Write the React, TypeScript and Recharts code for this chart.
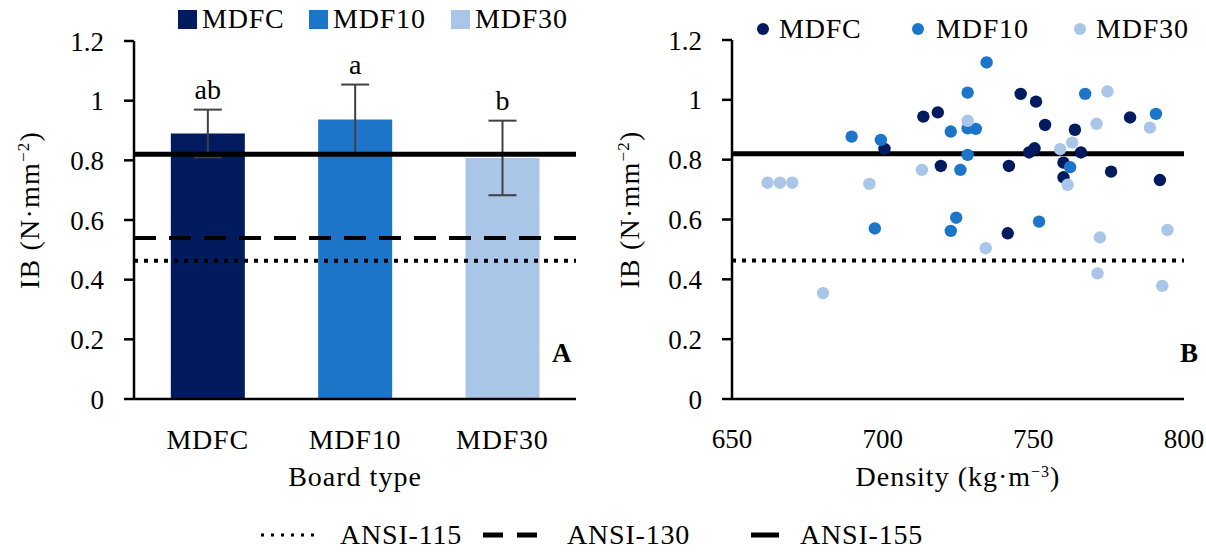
import React from 'react'
import {
  ComposedChart, Bar, XAxis, YAxis, ErrorBar, ReferenceLine, LabelList, Label, Cell,
  ScatterChart, Scatter,
} from 'recharts'

// panel A: mean IB per board type
const boardTypes = ['MDFC', 'MDF10', 'MDF30']
const ibMeans = [0.89, 0.937, 0.808]
const ibErrors = [0.08, 0.117, 0.125]
const letters = ['ab', 'a', 'b']
const seriesColors = ['#021B5E', '#1C75C9', '#A9C6E8']

// ANSI grade thresholds
const ansiLabels = ['ANSI-115', 'ANSI-130', 'ANSI-155']
const ansiValues = [0.463, 0.54, 0.82]
const ansiDash = ['4 6', '22 13', '']

// panel B: IB vs density per board
const mdfcDensity = [700.6, 713.5, 718.3, 719.3, 741.5, 741.9, 745.8, 748.6, 750.4, 750.9, 753.9, 760.0, 760.0, 763.8, 765.8, 775.8, 782.1, 792.0]
const mdfcIB = [0.836, 0.944, 0.958, 0.779, 0.554, 0.779, 1.02, 0.824, 0.838, 0.994, 0.916, 0.79, 0.741, 0.9, 0.824, 0.76, 0.941, 0.732]
const mdf10Density = [689.7, 697.4, 699.4, 722.6, 722.6, 724.4, 725.8, 728.2, 728.2, 730.9, 728.2, 734.5, 751.9, 762.2, 767.2, 790.7]
const mdf10IB = [0.877, 0.57, 0.866, 0.894, 0.562, 0.606, 0.766, 1.024, 0.905, 0.903, 0.816, 1.125, 0.593, 0.775, 1.02, 0.953]
const mdf30Density = [661.8, 665.9, 670.0, 680.2, 695.6, 713.0, 728.2, 734.2, 758.9, 761.4, 762.9, 771.0, 771.3, 772.1, 774.6, 788.7, 792.8, 794.5]
const mdf30IB = [0.723, 0.723, 0.723, 0.354, 0.719, 0.766, 0.93, 0.504, 0.835, 0.716, 0.857, 0.92, 0.42, 0.54, 1.028, 0.907, 0.378, 0.565]

const ibTicks = [0, 0.2, 0.4, 0.6, 0.8, 1, 1.2]
const densityTicks = [650, 700, 750, 800]

const FONT = "'Liberation Serif', 'DejaVu Serif', serif"
const tickStyle = { fill: '#000', fontSize: 27, fontFamily: FONT }
const wordTick = { ...tickStyle, fontSize: 28, letterSpacing: 0.8 }
const fmt = (v: number) => `${+v.toFixed(1)}`

const barRows = boardTypes.map((name, i) => ({ name, mean: ibMeans[i], err: ibErrors[i], letter: letters[i] }))
const toPoints = (xs: number[], ys: number[]) => xs.map((d, i) => ({ d, ib: ys[i] }))
const scatterSeries = [
  { name: 'MDFC', data: toPoints(mdfcDensity, mdfcIB), color: seriesColors[0] },
  { name: 'MDF10', data: toPoints(mdf10Density, mdf10IB), color: seriesColors[1] },
  { name: 'MDF30', data: toPoints(mdf30Density, mdf30IB), color: seriesColors[2] },
]

function renderLetter(props: any) {
  const { x, y, width, height, index } = props
  const row = barRows[index]
  if (!row) return null
  const pxPerUnit = height / row.mean
  const top = y - row.err * pxPerUnit
  return (
    <text x={x + width / 2} y={top - 11} textAnchor="middle" fill="#000" fontSize={28} fontFamily={FONT}>
      {row.letter}
    </text>
  )
}

function yTitle(props: any) {
  const { viewBox } = props
  const cx = viewBox.x + 30
  const cy = viewBox.y + viewBox.height / 2 - 10
  return (
    <text x={cx} y={cy} transform={`rotate(-90, ${cx}, ${cy})`} textAnchor="middle" dy={9}
      fill="#000" fontSize={28} fontFamily={FONT} letterSpacing={1.2}>
      IB (N·mm<tspan dy={-10} fontSize={17}>−2</tspan><tspan dy={10}>)</tspan>
    </text>
  )
}

function xTitle(main: string, sup?: string) {
  return (props: any) => {
    const { viewBox } = props
    const cx = viewBox.x + viewBox.width / 2
    const cy = viewBox.y + 87
    return (
      <text x={cx} y={cy} textAnchor="middle" fill="#000" fontSize={28} fontFamily={FONT} letterSpacing={1}>
        {main}
        {sup && <tspan dy={-9} fontSize={16}>{sup}</tspan>}
        {sup && <tspan dy={9}>)</tspan>}
      </text>
    )
  }
}

const legendText: React.CSSProperties = {
  position: 'absolute', fontFamily: FONT, fontSize: 28, lineHeight: '30px', color: '#000', letterSpacing: 0.8,
}

export default function App() {
  return (
    <div style={{ position: 'absolute', left: 0, top: 0, width: 1206, height: 555, background: '#fff', overflow: 'hidden' }}>
      {/* panel A */}
      <div style={{ position: 'absolute', left: 0, top: 0 }}>
        <ComposedChart width={600} height={555} data={barRows} margin={{ top: 41, right: 24, bottom: 96, left: 0 }} barCategoryGap="25%">
          <XAxis dataKey="name" height={60} tickLine={false} tickSize={0} tickMargin={30} tick={wordTick}
            axisLine={{ stroke: '#000', strokeWidth: 2.5 }}>
            <Label content={xTitle('Board type')} />
          </XAxis>
          <YAxis width={134} domain={[0, 1.2]} ticks={ibTicks} interval={0} tickFormatter={fmt} tick={tickStyle}
            tickSize={10} tickMargin={20} axisLine={{ stroke: '#000', strokeWidth: 2.5 }} tickLine={{ stroke: '#000', strokeWidth: 2.5 }}>
            <Label content={yTitle} />
          </YAxis>
          <Bar dataKey="mean" isAnimationActive={false}>
            {barRows.map((r, i) => <Cell key={r.name} fill={seriesColors[i]} />)}
            <ErrorBar dataKey="err" width={14} stroke="#404040" strokeWidth={2} />
            <LabelList dataKey="letter" content={renderLetter} />
          </Bar>
          {ansiValues.map((v, i) => (
            <ReferenceLine key={ansiLabels[i]} y={v} stroke="#000" strokeWidth={i === 2 ? 5 : 4} strokeDasharray={ansiDash[i]} />
          ))}
        </ComposedChart>
      </div>

      {/* panel B */}
      <div style={{ position: 'absolute', left: 600, top: 0 }}>
        <ScatterChart width={606} height={555} margin={{ top: 40, right: 22, bottom: 96, left: 0 }}>
          <XAxis dataKey="d" type="number" domain={[650, 800]} ticks={densityTicks} interval={0} height={60}
            tickLine={false} tickSize={0} tickMargin={30} tick={tickStyle} axisLine={{ stroke: '#000', strokeWidth: 2.5 }}>
            <Label content={xTitle('Density (kg·m', '−3')} />
          </XAxis>
          <YAxis dataKey="ib" type="number" width={132} domain={[0, 1.2]} ticks={ibTicks} interval={0} tickFormatter={fmt}
            tick={tickStyle} tickSize={10} tickMargin={20} axisLine={{ stroke: '#000', strokeWidth: 2.5 }}
            tickLine={{ stroke: '#000', strokeWidth: 2.5 }}>
            <Label content={yTitle} />
          </YAxis>
          {scatterSeries.map(s => (
            <Scatter key={s.name} name={s.name} data={s.data} fill={s.color} isAnimationActive={false}
              shape={(p: any) => <circle cx={p.cx} cy={p.cy} r={6.2} fill={s.color} />} />
          ))}
          <ReferenceLine y={ansiValues[2]} stroke="#000" strokeWidth={5} />
          <ReferenceLine y={ansiValues[0]} stroke="#000" strokeWidth={4} strokeDasharray={ansiDash[0]} />
        </ScatterChart>
      </div>

      {/* legend A */}
      {boardTypes.map((name, i) => (
        <React.Fragment key={name}>
          <div style={{ position: 'absolute', left: [178, 309, 451][i], top: 10, width: 19, height: 19, background: seriesColors[i] }} />
          <div style={{ ...legendText, left: [202, 333, 475][i], top: 4 }}>{name}</div>
        </React.Fragment>
      ))}

      {/* legend B */}
      {scatterSeries.map((s, i) => (
        <React.Fragment key={s.name}>
          <div style={{ position: 'absolute', left: [757, 912, 1074][i], top: 23, width: 12, height: 12, borderRadius: 6, background: s.color }} />
          <div style={{ ...legendText, left: [779, 936, 1096][i], top: 14 }}>{s.name}</div>
        </React.Fragment>
      ))}

      <div style={{ position: 'absolute', left: 552, top: 338, fontFamily: FONT, fontSize: 27, fontWeight: 'bold' }}>A</div>
      <div style={{ position: 'absolute', left: 1180, top: 338, fontFamily: FONT, fontSize: 27, fontWeight: 'bold' }}>B</div>

      {/* standards legend */}
      {ansiLabels.map((lab, i) => {
        const sx = [261, 483, 751][i]
        const len = [60, 54, 28][i]
        return (
          <React.Fragment key={lab}>
            <svg style={{ position: 'absolute', left: sx, top: 528 }} width={len} height={14}>
              <line x1={0} x2={len} y1={7} y2={7} stroke="#000" strokeWidth={i === 0 ? 3 : 5}
                strokeDasharray={i === 0 ? '3 7' : i === 1 ? '20 14' : undefined} />
            </svg>
            <div style={{ ...legendText, left: [340, 567, 800][i], top: 520 }}>{lab}</div>
          </React.Fragment>
        )
      })}
    </div>
  )
}
